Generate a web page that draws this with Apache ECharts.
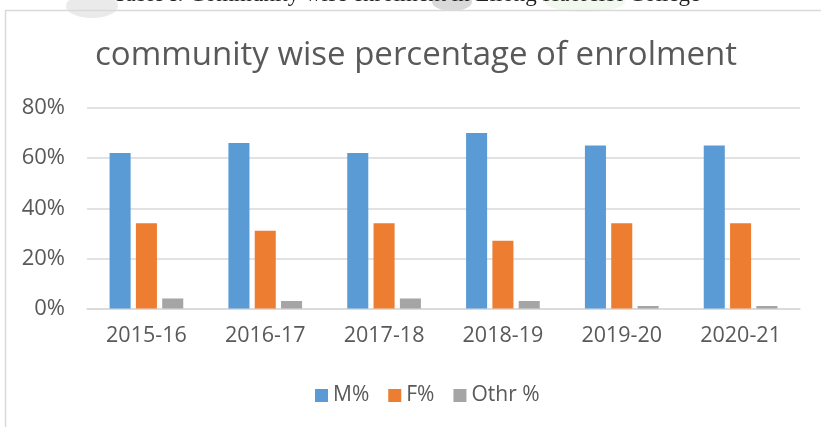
<!DOCTYPE html>
<html>
<head>
<meta charset="utf-8">
<script src="https://cdn.jsdelivr.net/npm/echarts@6/dist/echarts.min.js"></script>
<style>
  html, body { margin: 0; padding: 0; background: #fff; }
  #chart { width: 821px; height: 427px; }
</style>
</head>
<body>
<div id="chart"></div>
<script>
// academic years
const years = ["2015-16", "2016-17", "2017-18", "2018-19", "2019-20", "2020-21"];
// percentages
const malePct = [62, 66, 62, 70, 65, 65];
const femalePct = [34, 31, 34, 27, 34, 34];
const otherPct = [4, 3, 4, 3, 1, 1];
const yTicks = [0, 20, 40, 60, 80];

const chart = echarts.init(document.getElementById("chart"));

const labelColor = "#595959";
const lineColor = "#d9d9d9";

chart.setOption({
  animation: false,
  textStyle: { fontFamily: "Open Sans" },
  title: {
    text: "community wise percentage of enrolment",
    left: 90,
    top: 34,
    textStyle: { fontSize: 33, fontWeight: "normal", color: labelColor, fontFamily: "Open Sans" }
  },
  graphic: [
    // faded picture behind the caption
    { type: "ellipse", shape: { cx: 92, cy: 6, rx: 26, ry: 12 }, style: { fill: "rgba(170,170,170,0.25)" }, z: 0 },
    { type: "ellipse", shape: { cx: 452, cy: 2, rx: 20, ry: 9 }, style: { fill: "rgba(130,130,130,0.3)" }, z: 0 },
    { type: "ellipse", shape: { cx: 585, cy: 2, rx: 40, ry: 10 }, style: { fill: "rgba(215,235,205,0.35)" }, z: 0 },
    // caption from the page, half cut off
    {
      type: "text", left: 113, top: -17, z: 1,
      style: {
        text: "Table I: Community wise enrolment in Lilong Haoreibi College",
        font: "23px 'Liberation Serif'", fill: "#222"
      }
    },
    // chart frame
    { type: "line", shape: { x1: 5, y1: 10.5, x2: 821, y2: 10.5 }, style: { stroke: lineColor, lineWidth: 1.5 }, z: 2 },
    { type: "line", shape: { x1: 5.5, y1: 10, x2: 5.5, y2: 427 }, style: { stroke: lineColor, lineWidth: 1.5 }, z: 2 }
  ],
  legend: {
    data: ["M%", "F%", "Othr %"],
    left: 310,
    top: 380,
    icon: "rect",
    itemWidth: 13,
    itemHeight: 13,
    itemGap: 19,
    textStyle: { fontSize: 21, color: labelColor, fontFamily: "Open Sans" }
  },
  grid: { left: 87, right: 21, top: 108, bottom: 118.5, containLabel: false },
  xAxis: {
    type: "category",
    data: years,
    axisTick: { show: false },
    axisLine: { lineStyle: { color: lineColor, width: 1.5 } },
    axisLabel: { fontSize: 21.5, color: labelColor, margin: 16 }
  },
  yAxis: {
    type: "value",
    min: yTicks[0],
    max: yTicks[yTicks.length - 1],
    interval: 20,
    axisLine: { show: false },
    axisTick: { show: false },
    splitLine: { lineStyle: { color: lineColor, width: 1.5 } },
    axisLabel: { fontSize: 22, color: labelColor, margin: 22, formatter: "{value}%" }
  },
  series: [
    { name: "M%", type: "bar", data: malePct, itemStyle: { color: "#5b9bd5" }, barGap: "25%", barCategoryGap: "38%" },
    { name: "F%", type: "bar", data: femalePct, itemStyle: { color: "#ed7d31" } },
    { name: "Othr %", type: "bar", data: otherPct, itemStyle: { color: "#a5a5a5" } }
  ]
});
</script>
</body>
</html>
